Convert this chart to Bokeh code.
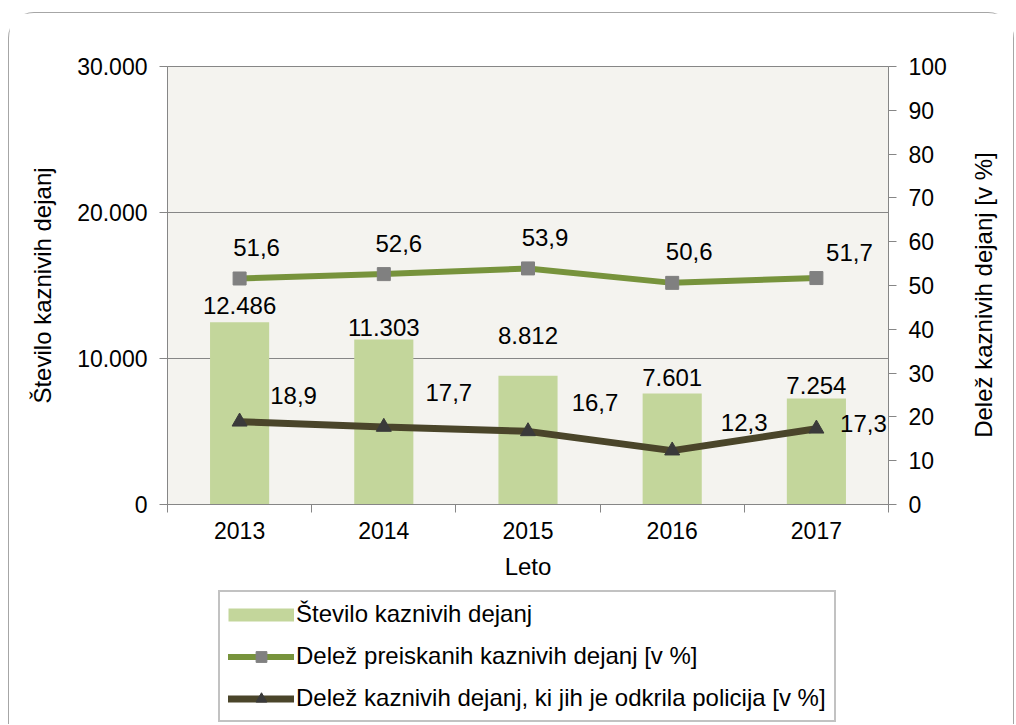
import math
from bokeh.plotting import figure
from bokeh.layouts import column
from bokeh.models import (Range1d, LinearAxis, FixedTicker, Legend, LegendItem,
                          LabelSet, ColumnDataSource)
from bokeh.core.properties import value
from bokeh.embed import file_html
from bokeh.resources import INLINE

# ---- data ----
years = ["2013", "2014", "2015", "2016", "2017"]
stevilo = [12486, 11303, 8812, 7601, 7254]
delez_preiskanih = [51.6, 52.6, 53.9, 50.6, 51.7]
delez_policija = [18.9, 17.7, 16.7, 12.3, 17.3]
left_ticks = [0, 10000, 20000, 30000]
right_ticks = [0, 10, 20, 30, 40, 50, 60, 70, 80, 90, 100]
series_names = ["Število kaznivih dejanj",
                "Delež preiskanih kaznivih dejanj [v %]",
                "Delež kaznivih dejanj, ki jih je odkrila policija [v %]"]

# ---- label placement (screen px, style only) ----
bar_lab_dy = [17, 12, 40, 16, 13]
sq_lab_dx = [17, 15, 17, 17, 33]
sq_lab_dy = [31, 31, 31, 31, 26]
tri_lab_dx = [54, 65, 67, 72, 47]
tri_lab_dy = [26, 34, 29, 28, 5]

FONT = "Liberation Sans"
FS = "23px"
LFS = "24px"
TFS = "24px"
GRAY = "#868686"
C_BAR = "#C3D69B"
C_L1 = "#77933C"
C_M1 = "#808080"
C_L2 = "#4A452A"
C_M2 = "#3A3A3A"


def fmt_int(v):
    return f"{v:,}".replace(",", ".")


def fmt_dec(v):
    return f"{v:.1f}".replace(".", ",")


xs = [i + 0.5 for i in range(len(years))]

p = figure(width=1004, height=575, x_range=Range1d(0, len(years)),
           y_range=Range1d(left_ticks[0], left_ticks[-1]),
           output_backend="svg", toolbar_location=None,
           min_border_left=158, min_border_right=122,
           min_border_top=53, min_border_bottom=84)
p.extra_y_ranges = {"pct": Range1d(right_ticks[0], right_ticks[-1])}

p.background_fill_color = "#F4F3EF"
p.border_fill_color = "white"
p.outline_line_color = GRAY
p.outline_line_width = 1

# x axis
xa = p.xaxis[0]
xa.ticker = FixedTicker(ticks=xs, minor_ticks=list(range(len(years) + 1)))
xa.major_label_overrides = {x: y for x, y in zip(xs, years)}
xa.major_tick_line_color = None
xa.major_tick_out = 0
xa.major_tick_in = 0
xa.minor_tick_out = 8
xa.minor_tick_in = 0
xa.axis_line_color = GRAY
xa.axis_label = "Leto"
xa.major_label_standoff = 9
xa.axis_label_standoff = 11

# left axis
ya = p.yaxis[0]
ya.ticker = FixedTicker(ticks=left_ticks, minor_ticks=[])
ya.major_label_overrides = {t: fmt_int(t) for t in left_ticks}
ya.axis_label = "Število kaznivih dejanj"
ya.major_tick_out = 8
ya.major_tick_in = 0
ya.major_tick_line_color = GRAY
ya.axis_line_color = GRAY
ya.major_label_standoff = 12
ya.axis_label_standoff = 18

# right axis (title reads bottom-to-top like the reference)
ra = LinearAxis(y_range_name="pct", ticker=FixedTicker(ticks=right_ticks, minor_ticks=[]),
                axis_label="\u00a0" * 10 + "Delež kaznivih dejanj [v %]")
ra.major_tick_out = 8
ra.major_tick_in = 0
ra.major_tick_line_color = GRAY
ra.axis_line_color = GRAY
ra.major_label_standoff = 12
ra.axis_label_standoff = 34
ra.axis_label_orientation = math.pi / 2
if "axis_label_align" in ra.properties():
    ra.axis_label_align = "start"
p.add_layout(ra, "right")

for ax in (xa, ya, ra):
    ax.major_label_text_font = FONT
    ax.major_label_text_font_size = FS
    ax.major_label_text_color = "black"
    ax.axis_label_text_font = FONT
    ax.axis_label_text_font_size = TFS
    ax.axis_label_text_font_style = "normal"
    ax.axis_label_text_color = "black"
    ax.minor_tick_line_color = GRAY if ax is xa else None

p.xgrid.visible = False
p.ygrid.ticker = FixedTicker(ticks=left_ticks)
p.ygrid.grid_line_color = GRAY

# ---- glyphs ----
src = ColumnDataSource(dict(
    x=xs, stevilo=stevilo, pre=delez_preiskanih, pol=delez_policija,
    lab_bar=[fmt_int(v) for v in stevilo],
    lab_pre=[fmt_dec(v) for v in delez_preiskanih],
    lab_pol=[fmt_dec(v) for v in delez_policija],
    bdy=bar_lab_dy, sdx=sq_lab_dx, sdy=sq_lab_dy, tdx=tri_lab_dx, tdy=tri_lab_dy,
))

p.vbar(x="x", top="stevilo", width=0.41, source=src, fill_color=C_BAR, line_color=None)
p.line("x", "pre", source=src, y_range_name="pct", line_width=6, line_color=C_L1)
p.scatter("x", "pre", source=src, y_range_name="pct", marker="square",
          size=13, fill_color=C_M1, line_color=C_M1)
p.line("x", "pol", source=src, y_range_name="pct", line_width=7, line_color=C_L2)
p.scatter("x", "pol", source=src, y_range_name="pct", marker="triangle",
          size=15, fill_color=C_M2, line_color=C_M2)

common = dict(source=src, text_font=value(FONT), text_font_size=value(LFS),
              text_color="black", text_align="center", text_baseline="middle")
p.add_layout(LabelSet(x="x", y="stevilo", text="lab_bar", y_offset="bdy", **common))
p.add_layout(LabelSet(x="x", y="pre", text="lab_pre", x_offset="sdx", y_offset="sdy",
                      y_range_name="pct", **common))
p.add_layout(LabelSet(x="x", y="pol", text="lab_pol", x_offset="tdx", y_offset="tdy",
                      y_range_name="pct", **common))

# ---- legend strip (separate figure under the chart) ----
# its ranges lie away from the data, so its series are only shown as legend keys
lg = figure(width=1004, height=136, x_range=Range1d(-10, -9), y_range=Range1d(-10, -9),
            output_backend="svg", toolbar_location=None,
            min_border_left=158, min_border_right=122, min_border_top=0, min_border_bottom=0,
            x_axis_location=None, y_axis_location=None)
lg.outline_line_color = None
lg.grid.visible = False
lg.background_fill_color = "white"
lg.border_fill_color = "white"

k0 = lg.line("x", "stevilo", source=src, line_color=C_BAR, line_width=13, line_cap="butt")
k1 = lg.line("x", "pre", source=src, line_color=C_L1, line_width=6, line_cap="round")
k1m = lg.scatter("x", "pre", source=src, marker="square", fill_color=C_M1, line_color=C_M1)
k2 = lg.line("x", "pol", source=src, line_color=C_L2, line_width=7, line_cap="round")
k2m = lg.scatter("x", "pol", source=src, marker="triangle", fill_color=C_M2, line_color=C_M2)

legend = Legend(items=[
    LegendItem(label=series_names[0], renderers=[k0]),
    LegendItem(label=series_names[1], renderers=[k1, k1m]),
    LegendItem(label=series_names[2], renderers=[k2, k2m]),
], location=(51, 2), orientation="vertical")
legend.label_text_font = FONT
legend.label_text_font_size = LFS
legend.label_text_color = "black"
legend.label_standoff = 2
legend.label_height = 27
legend.glyph_width = 66
legend.glyph_height = 27
legend.spacing = 14
legend.padding = 8
legend.margin = 0
legend.border_line_color = GRAY
legend.border_line_width = 2
legend.background_fill_color = "white"
legend.background_fill_alpha = 1
lg.add_layout(legend, "center")

layout = column(p, lg, spacing=0,
                styles={"margin-top": "12px", "margin-left": "8px",
                        "border-top": "1px solid #a6a6a6",
                        "border-left": "1px solid #a6a6a6",
                        "border-right": "1px solid #a6a6a6",
                        "border-top-left-radius": "26px",
                        "border-top-right-radius": "26px"})

open("out.html", "w").write(file_html(layout, INLINE))
